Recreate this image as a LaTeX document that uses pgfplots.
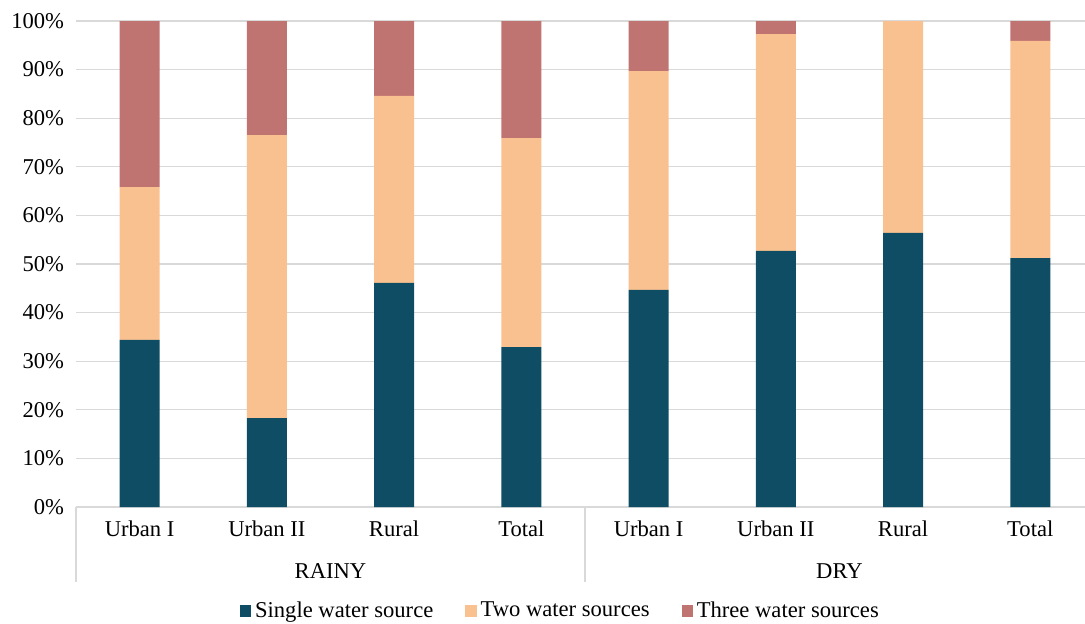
\documentclass[border=0pt]{standalone}
\usepackage{pgfplots}
\pgfplotsset{compat=1.18}
\usepackage{fontspec}
\setmainfont{Liberation Serif}
\definecolor{single}{HTML}{0E4D64}
\definecolor{two}{HTML}{F9C190}
\definecolor{three}{HTML}{C07472}
\definecolor{gridc}{HTML}{D9D9D9}
\begin{document}
\fontsize{11.3}{13.5}\selectfont
\begin{tikzpicture}
\useasboundingbox (-38pt,-58pt) rectangle ++(542.5pt,311.5pt);
\begin{axis}[
  at={(0,0)}, anchor=south west,
  scale only axis, width=504.5pt, height=243pt,
  ybar stacked, bar width=20pt,
  xmin=-0.5, xmax=7.43, ymin=0, ymax=100,
  xtick={0,...,7},
  xticklabels={Urban I,Urban II,Rural,Total,Urban I,Urban II,Rural,Total},
  xticklabel style={yshift=-3pt},
  ytick={0,10,...,100},
  yticklabels={0\%,10\%,20\%,30\%,40\%,50\%,60\%,70\%,80\%,90\%,100\%},
  /pgf/number format/assume math mode=true,
  ymajorgrids, grid style={gridc, line width=0.6pt},
  axis x line*=bottom, axis y line*=left,
  x axis line style={gridc, line width=0.6pt},
  y axis line style={draw=none},
  major tick length=0pt,
  tick label style={font=\fontsize{11.3}{13.5}\selectfont},
  yticklabel style={xshift=-2pt},
  clip=false,
  legend columns=3,
  legend style={draw=none, at={(0.481,-0.214)}, anchor=center,
    font=\fontsize{11.3}{13.5}\selectfont,
    /tikz/every even column/.append style={column sep=14pt}},
  legend image code/.code={\fill[#1] (0pt,-2.8pt) rectangle (5.6pt,2.8pt);},
]
\addplot[fill=single, draw=none] coordinates {
  (0,34.4) (1,18.3) (2,46.1) (3,32.9) (4,44.7) (5,52.7) (6,56.4) (7,51.2)};
\addplot[fill=two, draw=none] coordinates {
  (0,31.4) (1,58.2) (2,38.5) (3,43.0) (4,45.0) (5,44.6) (6,43.6) (7,44.7)};
\addplot[fill=three, draw=none] coordinates {
  (0,34.2) (1,23.5) (2,15.4) (3,24.1) (4,10.3) (5,2.7) (6,0) (7,4.1)};
\legend{Single water source, Two water sources, Three water sources}
\draw[gridc, line width=0.6pt] (axis cs:-0.5,0) -- ([yshift=-37.5pt]axis cs:-0.5,0);
\draw[gridc, line width=0.6pt] (axis cs:3.5,0) -- ([yshift=-37.5pt]axis cs:3.5,0);
\node at ([yshift=-32pt]axis cs:1.5,0) {RAINY};
\node at ([yshift=-32pt]axis cs:5.5,0) {DRY};
\end{axis}
\end{tikzpicture}
\end{document}
